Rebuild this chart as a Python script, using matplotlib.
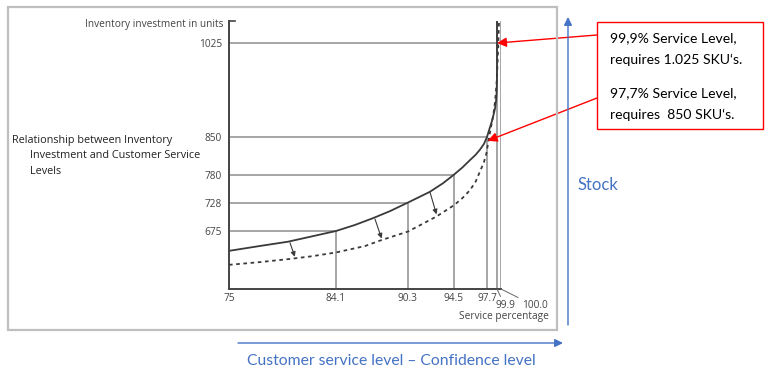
import numpy as np
import matplotlib.pyplot as plt
from matplotlib.patches import Rectangle
from matplotlib.lines import Line2D

W, H = 772, 376

# axis ticks
service_ticks = [75, 84.1, 90.3, 94.5, 97.7, 99.9, 100.0]
inventory_ticks = [675, 728, 780, 850, 1025]

# reference points where the guide lines meet the current curve
ref_service = [84.1, 90.3, 94.5, 97.7, 99.9]
ref_inventory = [675, 728, 780, 850, 1025]

# current relationship (solid curve)
current_service = [75, 77.6, 80.0, 82.06, 84.1, 85.7, 87.3, 88.75, 90.3, 92.3,
                   93.5, 94.5, 95.3, 96.05, 96.6, 97.0, 97.4, 97.7, 98.2,
                   98.73, 99.1, 99.46, 99.7, 99.83, 99.88, 99.9, 99.9, 99.9]
current_stock = [638, 647, 655, 665, 675, 686, 699, 712, 728, 748,
                 764, 780, 793, 807, 817, 826, 837, 850, 864,
                 878, 890, 903, 918, 934, 955, 978, 1025, 1066]

# improved relationship (dashed curve)
improved_service = [75, 77.6, 80.2, 82.06, 84.1, 86.6, 88.0, 90.3, 92.9, 94.5,
                    95.3, 96.05, 96.6, 97.0, 97.4, 97.65, 97.99, 98.5, 99.09,
                    99.5, 99.83, 99.93, 99.95]
improved_stock = [612, 617, 623, 628, 635, 647, 658, 674, 702, 723,
                  736, 751, 767, 785, 803, 820, 841, 865, 891,
                  918, 953, 1016, 1065]

# small arrows from the solid to the dashed curve
shift_from = [(80.19, 653), (87.46, 697), (92.3, 748)]
shift_to = [(80.6, 627), (88.03, 661), (92.9, 706)]

# the printed service axis is not linear: pixel position of each tick
scale_service = [75, 84.1, 90.3, 94.5, 97.7, 99.9, 100.0]
scale_pixel = [229, 336, 408, 454, 487, 497, 501]


def fwd(s):
    return np.interp(s, scale_service, scale_pixel)


def inv(p):
    return np.interp(p, scale_pixel, scale_service)


def fig_xy(px, py):
    return (px / W, 1 - py / H)


fig = plt.figure(figsize=(W / 100, H / 100), dpi=100)
ax = fig.add_axes([229 / W, 1 - 289 / H, 272 / W, 268 / H])
ax.set_xscale('function', functions=(fwd, inv))
ax.set_xlim(75, 100)
ax.set_ylim(567, 1066)

grid_col = '#a6a6a6'
ink = '#3a3a3a'
label_font = 'Open Sans'
small = 7.3

# guide lines
ax.hlines(ref_inventory, 75, ref_service, color=grid_col, lw=1.4, zorder=1)
ax.vlines(ref_service, 567, ref_inventory, color=grid_col, lw=1.4, zorder=1)
ax.vlines([99.9, 100.0], 567, 1066, color=grid_col, lw=1.4, zorder=1)

ax.plot(current_service, current_stock, color=ink, lw=1.3, zorder=3)
ax.plot(improved_service, improved_stock, color=ink, lw=1.3,
        linestyle=(0, (2, 2)), zorder=3)

for a, b in zip(shift_from, shift_to):
    ax.annotate('', xy=b, xytext=a,
                arrowprops=dict(arrowstyle='-|>', color=ink, lw=0.8,
                                mutation_scale=7, shrinkA=0, shrinkB=0))

for side in ['top', 'right']:
    ax.spines[side].set_visible(False)
for side in ['left', 'bottom']:
    ax.spines[side].set_color('#444444')
    ax.spines[side].set_linewidth(1.4)
ax.patch.set_visible(False)

ax.set_yticks(inventory_ticks)
ax.set_yticklabels([str(v) for v in inventory_ticks])
ax.set_xticks(service_ticks[:5])
ax.set_xticklabels(['75', '84.1', '90.3', '94.5', '97.7'])
ax.xaxis.set_minor_locator(plt.NullLocator())
ax.tick_params(length=0, labelsize=small, labelcolor='#444444')
ax.tick_params(axis='y', pad=5)
ax.tick_params(axis='x', pad=3)
for lab in ax.get_xticklabels() + ax.get_yticklabels():
    lab.set_family(label_font)

# little top tick of the y axis
fig.add_artist(Line2D([229 / W, 235 / W], [1 - 21 / H] * 2,
                      color='#444444', lw=1.2))

# offset labels for 99.9 and 100.0
for s, pos, text in [(99.9, (505, 306), '99.9'), (100.0, (535, 306), '100.0')]:
    ax.annotate(text, xy=(s, 567), xytext=fig_xy(*pos),
                textcoords='figure fraction', ha='center', va='center',
                fontsize=small, color='#444444', family=label_font,
                arrowprops=dict(arrowstyle='-', color='#666666', lw=0.7,
                                shrinkA=1, shrinkB=0))

fig.text(*fig_xy(549, 317), 'Service percentage', ha='right', va='center',
         fontsize=small, color='#444444', family=label_font)
fig.text(*fig_xy(223, 24), 'Inventory investment in units', ha='right',
         va='center', fontsize=small, color='#444444', family=label_font)

for (px, py), line in zip([(12, 141), (30, 156), (30, 171)],
                          ['Relationship between Inventory',
                           'Investment and Customer Service', 'Levels']):
    fig.text(*fig_xy(px, py), line, ha='left', va='center', fontsize=7.8,
             color='#222222', family=label_font)

# grey frame round the chart picture
fig.add_artist(Rectangle(fig_xy(8, 330), 549 / W, 323 / H,
                         transform=fig.transFigure, fill=False,
                         edgecolor='#bfbfbf', lw=1.6))

# red call-out box
fig.add_artist(Rectangle(fig_xy(597, 129), 166 / W, 107 / H,
                         transform=fig.transFigure, fill=False,
                         edgecolor='#ff0000', lw=1.0))
box_lines = ['99,9% Service Level,', 'requires 1.025 SKU\u2018s.',
             '97,7% Service Level,', 'requires  850 SKU\u2018s.']
for py, line in zip([38, 60, 93, 115], box_lines):
    fig.text(*fig_xy(610, py), line, ha='left', va='center', fontsize=10.1,
             color='black', family='Lato')

red_arrow = dict(arrowstyle='-|>', color='#ff0000', lw=1.0,
                 mutation_scale=14, shrinkA=0, shrinkB=0)
ax.annotate('', xy=(99.9, 1025), xytext=fig_xy(597, 35),
            textcoords='figure fraction', arrowprops=red_arrow)
ax.annotate('', xy=(97.85, 843), xytext=fig_xy(597, 98),
            textcoords='figure fraction', arrowprops=red_arrow)

# blue axis arrows
blue = '#4472c4'
blue_arrow = dict(arrowstyle='-|>', color=blue, lw=1.0, mutation_scale=12,
                  shrinkA=0, shrinkB=0)
fig.add_artist(plt.Annotation('', xy=fig_xy(563, 343), xycoords='figure fraction',
                              xytext=fig_xy(238, 343), textcoords='figure fraction',
                              arrowprops=blue_arrow))
fig.add_artist(plt.Annotation('', xy=fig_xy(568, 17), xycoords='figure fraction',
                              xytext=fig_xy(568, 325), textcoords='figure fraction',
                              arrowprops=blue_arrow))
fig.text(*fig_xy(391, 361), 'Customer service level \u2013 Confidence level',
         ha='center', va='center', fontsize=11.3, color=blue, family='Lato')
fig.text(*fig_xy(577, 185), 'Stock', ha='left', va='center', fontsize=12,
         color=blue, family='Lato')

fig.savefig('out.png', dpi=100)
